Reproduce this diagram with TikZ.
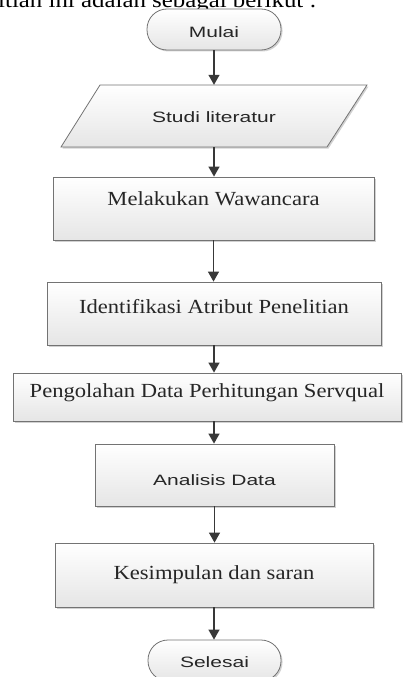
\documentclass[tikz,border=0pt]{standalone}
\usepackage{fontspec}
\setmainfont{Liberation Serif}
\newfontfamily\lsans{Liberation Sans}
\usetikzlibrary{arrows.meta,shadows}
\newcommand\mywide[1]{\scalebox{1.13}[1]{#1}}
\newcommand\mysans[1]{\scalebox{1.4}[1]{#1}}
\begin{document}
\begin{tikzpicture}[x=1pt,y=-1pt,
  shade/.style={draw=black!55, line width=0.8pt, top color=white, bottom color=black!10,
    drop shadow={fill=black!18, opacity=1, shadow xshift=1.5pt, shadow yshift=-1.5pt}},
  box/.style={shade, rectangle, inner sep=0pt},
  term/.style={shade, rectangle, rounded corners=20pt, inner sep=0pt},
  stxt/.style={font=\fontsize{20}{24}\selectfont, text=black!85, inner sep=0pt},
  sstxt/.style={font=\lsans\fontsize{15}{18}\selectfont, text=black!85, inner sep=0pt},
  flow/.style={draw=black!78, line width=1.3pt, -{Triangle[length=10pt,width=11pt]}}
]
\useasboundingbox (0,0) rectangle (404,677);
\begin{scope}
\clip (0,0) rectangle (404,677);
% intro text (cut at the top)
\node[font=\fontsize{22}{26}\selectfont, anchor=base west, inner sep=0pt] (intro) at (-2,8) {\mywide{itian ini adalah sebagai berikut :}};
% start
\node[term, minimum width=134pt, minimum height=41pt] (mulai) at (214,29.5) {};
\node[sstxt] (tmulai) at (214,32) {\mysans{Mulai}};
% parallelogram
\path[shade] (100,85) -- (367,85) -- (327,147) -- (61,147) -- cycle;
\node[rectangle, inner sep=0pt, minimum width=266pt, minimum height=62pt] (studi) at (214,116) {};
\node[sstxt] (tstudi) at (214,117) {\mysans{Studi literatur}};
% boxes
\node[box, minimum width=321pt, minimum height=63pt] (wawancara) at (213.5,208.5) {};
\node[stxt] (twaw) at (213.5,199) {\mywide{Melakukan Wawancara}};
\node[box, minimum width=334pt, minimum height=63pt] (atribut) at (214,313.5) {};
\node[stxt] (tatr) at (214,306.5) {\mywide{Identifikasi Atribut Penelitian}};
\node[box, minimum width=388pt, minimum height=48pt] (olah) at (207,397) {};
\node[stxt] (tolah) at (207,392.5) {\mywide{Pengolahan Data Perhitungan Servqual}};
\node[box, minimum width=239pt, minimum height=62pt] (analisis) at (214.5,475) {};
\node[sstxt] (tana) at (214.5,480) {\mysans{Analisis Data}};
\node[box, minimum width=318pt, minimum height=64pt] (simpul) at (214,575) {};
\node[stxt] (tsim) at (214,574.5) {\mywide{Kesimpulan dan saran}};
% end
\node[term, minimum width=133pt, minimum height=41pt] (selesai) at (214.5,660.5) {};
\node[sstxt] (tsel) at (214.5,662) {\mysans{Selesai}};
% connectors
\draw[flow] (mulai.south) -- (mulai.south |- studi.north);
\draw[flow] (studi.south) -- (studi.south |- wawancara.north);
\draw[flow] (wawancara.south) -- (wawancara.south |- atribut.north);
\draw[flow] (atribut.south) -- (atribut.south |- olah.north);
\draw[flow] (atribut.south |- olah.south) -- (atribut.south |- analisis.north);
\draw[flow] (analisis.south) -- (analisis.south |- simpul.north);
\draw[flow] (simpul.south) -- (simpul.south |- selesai.north);
\end{scope}
\end{tikzpicture}
\end{document}
